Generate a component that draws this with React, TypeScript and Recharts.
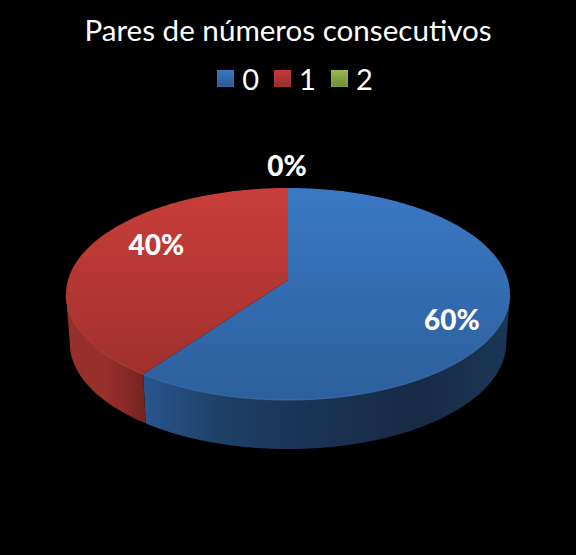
import React from 'react';
import { PieChart, Pie, Legend } from 'recharts';

const categories = ['0', '1', '2'];
const shares = [60, 40, 0];
const colors = ['#3c78c4', '#c43c39', '#98bb4c'];

const chartData = categories.map((name, i) => ({ name, value: shares[i], fill: colors[i] }));

// tilt of the disc: vertical squash, perspective and rim height
const SQUASH = 0.4736;
const PERSPECTIVE = 0.132;
const DEPTH = 49;
const BOTTOM_SCALE = 0.983;
const FONT = 'Lato, "Open Sans", sans-serif';

// gradient ids per slice index
const TOP_FILL = ['url(#topBlue)', 'url(#topRed)', 'url(#topGreen)'];
const SIDE_FILL = ['url(#sideBlue)', 'url(#sideRed)', 'url(#sideGreen)'];
const RIM = ['#5f96dc', '#dc6660', '#b5d070'];

// hand placed label nudges, the original labels are not on the slice centre
const LABEL_NUDGE = [
  { dx: 22, dy: 17 },
  { dx: -1, dy: -16 },
  { dx: -1, dy: -5 },
];

function project(cx: number, cy: number, r: number, angle: number) {
  const rad = (angle * Math.PI) / 180;
  const u = Math.cos(rad);
  const v = -Math.sin(rad);
  const w = 1 - PERSPECTIVE * v;
  return { x: cx + (r * u) / w, y: cy + (r * SQUASH * v) / w, v };
}

function arcPoints(cx: number, cy: number, r: number, start: number, end: number) {
  const steps = Math.max(2, Math.ceil(Math.abs(end - start)));
  const pts = [];
  for (let i = 0; i <= steps; i++) {
    pts.push(project(cx, cy, r, start + ((end - start) * i) / steps));
  }
  return pts;
}

const toPath = (pts: { x: number; y: number }[]) =>
  pts.map((p, i) => `${i ? 'L' : 'M'}${p.x.toFixed(2)},${p.y.toFixed(2)}`).join(' ');

function DiscSlice(props: any) {
  const { cx, cy, outerRadius, startAngle, endAngle, index } = props;
  if (Math.abs(endAngle - startAngle) < 0.01) return null;
  const arc = arcPoints(cx, cy, outerRadius, startAngle, endAngle);
  const front = arc.filter((p) => p.v > PERSPECTIVE);
  const bottom = [...front].reverse().map((p) => ({ x: cx + (p.x - cx) * BOTTOM_SCALE, y: p.y + DEPTH }));
  const wall = [...front, ...bottom];
  return (
    <g>
      {front.length > 1 && <path d={`${toPath(wall)} Z`} fill={SIDE_FILL[index]} />}
      <path d={`${toPath([{ x: cx, y: cy }, ...arc])} Z`} fill={TOP_FILL[index]} />
      {front.length > 1 && <path d={toPath(front)} fill="none" stroke={RIM[index]} strokeOpacity={0.45} strokeWidth={1} />}
    </g>
  );
}

function SliceLabel(props: any) {
  const { cx, cy, outerRadius, midAngle, index, value } = props;
  const ratio = value === 0 ? 1.2 : 0.65;
  const p = project(cx, cy, outerRadius * ratio, midAngle);
  const nudge = LABEL_NUDGE[index];
  return (
    <text
      x={p.x + nudge.dx}
      y={p.y + nudge.dy}
      fill="#fff"
      textAnchor="middle"
      dominantBaseline="central"
      fontFamily={FONT}
      fontWeight={900}
      fontSize={28}
    >
      {value}%
    </text>
  );
}

function ChartLegend({ payload }: any) {
  return (
    <div style={{ display: 'flex', justifyContent: 'center', alignItems: 'center', paddingLeft: 14, fontFamily: FONT, fontSize: 29, color: '#fff' }}>
      {(payload || []).map((item: any, i: number) => (
        <span key={item.value} style={{ display: 'flex', alignItems: 'center', marginLeft: i ? 15 : 0 }}>
          <span
            style={{
              width: 17,
              height: 17,
              marginRight: 8,
              background: `linear-gradient(${colors[i]}, ${colors[i]}bb)`,
              boxShadow: `inset 0 0 3px ${colors[i]}`,
            }}
          />
          {item.value}
        </span>
      ))}
    </div>
  );
}

export default function App() {
  return (
    <div style={{ position: 'absolute', left: 0, top: 0, width: 576, height: 555, background: '#000' }}>
      <PieChart width={576} height={555} margin={{ top: 0, right: 0, bottom: 0, left: 0 }}>
        <defs>
          <linearGradient id="topBlue" gradientUnits="userSpaceOnUse" x1="0" y1="188" x2="0" y2="400">
            <stop offset="0" stopColor="#3b78c4" />
            <stop offset="1" stopColor="#2c5f9c" />
          </linearGradient>
          <linearGradient id="topRed" gradientUnits="userSpaceOnUse" x1="0" y1="188" x2="0" y2="400">
            <stop offset="0" stopColor="#c93e3a" />
            <stop offset="1" stopColor="#9a2e2b" />
          </linearGradient>
          <linearGradient id="topGreen" gradientUnits="userSpaceOnUse" x1="0" y1="188" x2="0" y2="400">
            <stop offset="0" stopColor="#a0c451" />
            <stop offset="1" stopColor="#77953a" />
          </linearGradient>
          <linearGradient id="sideBlue" gradientUnits="userSpaceOnUse" x1="143" y1="0" x2="510" y2="0">
            <stop offset="0" stopColor="#28568f" />
            <stop offset="0.2" stopColor="#1f4168" />
            <stop offset="0.45" stopColor="#1a3355" />
            <stop offset="0.75" stopColor="#172a45" />
            <stop offset="1" stopColor="#1b3757" />
          </linearGradient>
          <linearGradient id="sideRed" gradientUnits="userSpaceOnUse" x1="66" y1="0" x2="146" y2="0">
            <stop offset="0" stopColor="#96302c" />
            <stop offset="0.5" stopColor="#982f2b" />
            <stop offset="1" stopColor="#742320" />
          </linearGradient>
          <linearGradient id="sideGreen" gradientUnits="userSpaceOnUse" x1="66" y1="0" x2="510" y2="0">
            <stop offset="0" stopColor="#77953a" />
            <stop offset="1" stopColor="#4c5f25" />
          </linearGradient>
        </defs>
        <text x={288} y={29} fill="#fff" textAnchor="middle" dominantBaseline="central" fontFamily={FONT} fontSize={29.6}>
          Pares de números consecutivos
        </text>
        <Legend
          verticalAlign="top"
          align="center"
          content={<ChartLegend />}
          wrapperStyle={{ position: 'absolute', top: 61, left: 0, width: 576 }}
        />
        <Pie
          data={chartData}
          dataKey="value"
          nameKey="name"
          cx={288}
          cy={245}
          innerRadius={0}
          outerRadius={220}
          startAngle={90}
          endAngle={-270}
          stroke="none"
          shape={DiscSlice}
          label={SliceLabel}
          labelLine={false}
          isAnimationActive={false}
        />
      </PieChart>
    </div>
  );
}
